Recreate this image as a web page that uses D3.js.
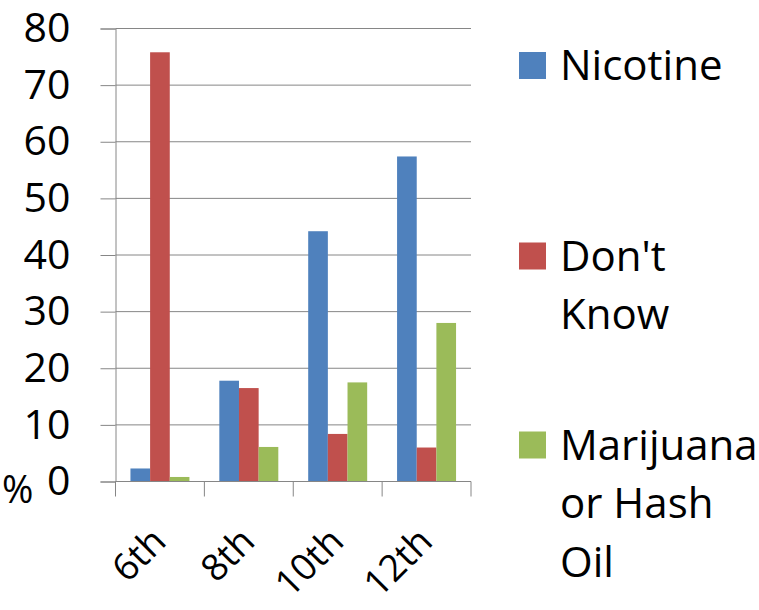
<!DOCTYPE html>
<html>
<head>
<meta charset="utf-8">
<script src="https://cdn.jsdelivr.net/npm/d3@7"></script>
<style>
  body { margin: 0; background: #fff; }
  text { font-family: "Open Sans", sans-serif; fill: #000; }
</style>
</head>
<body>
<svg id="chart"></svg>
<script>
const grades = ["6th", "8th", "10th", "12th"];
const seriesNames = ["Nicotine", "Don't Know", "Marijuana or Hash Oil"];
const nicotine = [2.3, 17.8, 44.2, 57.4];
const dontKnow = [75.8, 16.5, 8.4, 6.0];
const marijuana = [0.8, 6.1, 17.5, 28.0];
const yTicks = [0, 10, 20, 30, 40, 50, 60, 70, 80];
const legendLines = [["Nicotine"], ["Don't", "Know"], ["Marijuana", "or Hash", "Oil"]];

const colors = ["#4F81BD", "#C0504D", "#9BBB59"];
const values = [nicotine, dontKnow, marijuana];

const width = 759, height = 610;
const margin = {left: 115.5, right: 288, top: 28.5, bottom: 128.5}; // plot area

const svg = d3.select("#chart")
    .attr("width", width)
    .attr("height", height);

const x = d3.scaleBand()
    .domain(grades)
    .range([margin.left, width - margin.right]);

const xInner = d3.scaleBand()
    .domain(seriesNames)
    .range([0, x.bandwidth()])
    .paddingOuter(0.76);

const y = d3.scaleLinear()
    .domain([0, 80])
    .range([height - margin.bottom, margin.top]);

// gridlines
svg.append("g")
    .selectAll("line")
    .data(yTicks)
    .join("line")
    .attr("x1", margin.left)
    .attr("x2", width - margin.right)
    .attr("y1", d => y(d))
    .attr("y2", d => y(d))
    .attr("stroke", "#868686")
    .attr("stroke-width", 1);

// bars
const rows = [];
grades.forEach((g, i) => {
    seriesNames.forEach((s, j) => rows.push({grade: g, series: s, value: values[j][i], color: colors[j]}));
});

svg.append("g")
    .selectAll("rect")
    .data(rows)
    .join("rect")
    .attr("x", d => x(d.grade) + xInner(d.series))
    .attr("width", xInner.bandwidth())
    .attr("y", d => y(d.value))
    .attr("height", d => y(0) - y(d.value))
    .attr("fill", d => d.color);

// y axis
const yAxis = svg.append("g")
    .attr("transform", `translate(${margin.left},0)`)
    .call(d3.axisLeft(y).tickValues(yTicks).tickSize(15).tickPadding(30));
yAxis.select(".domain").attr("stroke", "#868686");
yAxis.selectAll(".tick line").attr("stroke", "#868686");
yAxis.selectAll(".tick text")
    .style("font-family", "Open Sans")
    .style("font-size", "41px")
    .attr("fill", "#000");

// x axis with ticks between categories
const xAxis = svg.append("g")
    .attr("transform", `translate(0,${y(0)})`);
xAxis.append("line")
    .attr("x1", margin.left)
    .attr("x2", width - margin.right)
    .attr("stroke", "#868686");
xAxis.selectAll(".sep")
    .data(grades.map(g => x(g)).concat([x.range()[1]]))
    .join("line")
    .attr("class", "sep")
    .attr("x1", d => d)
    .attr("x2", d => d)
    .attr("y1", 0)
    .attr("y2", 15)
    .attr("stroke", "#868686");
xAxis.selectAll(".lbl")
    .data(grades)
    .join("text")
    .attr("class", "lbl")
    .attr("text-anchor", "end")
    .attr("transform", d => `translate(${x(d) + x.bandwidth() / 2 + 8},62) rotate(-45)`)
    .style("font-size", "37px")
    .text(d => d);

// axis title
svg.append("text")
    .attr("x", 2)
    .attr("y", 503)
    .style("font-size", "38px")
    .text("%");

// legend
const legendY = [52, 242.5, 431.5];
const legend = svg.append("g")
    .selectAll("g")
    .data(seriesNames)
    .join("g")
    .attr("transform", (d, i) => `translate(519,${legendY[i]})`);
legend.append("rect")
    .attr("width", 27)
    .attr("height", 27)
    .attr("fill", (d, i) => colors[i]);
legend.append("text")
    .style("font-size", "42px")
    .selectAll("tspan")
    .data((d, i) => legendLines[i])
    .join("tspan")
    .attr("x", 41)
    .attr("y", (d, k) => 28 + k * 58.5)
    .text(d => d);
</script>
</body>
</html>
